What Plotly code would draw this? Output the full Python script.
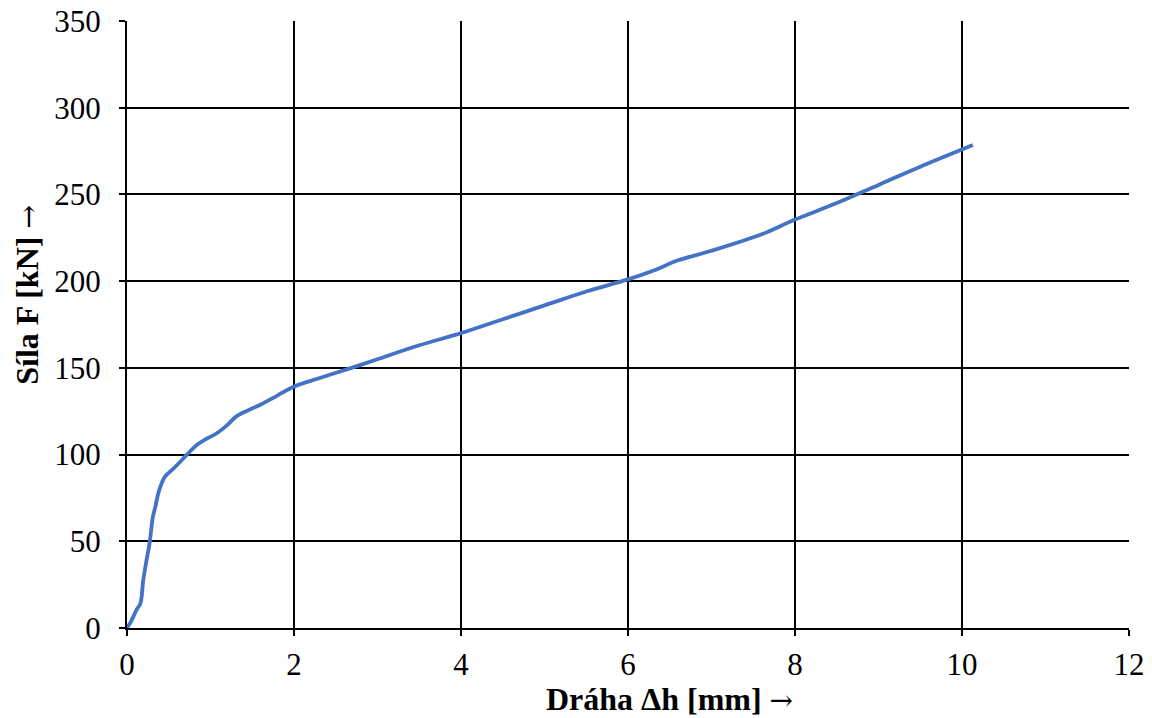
import plotly.graph_objects as go

# displacement [mm] and force [kN]
drah = [0, 0.05, 0.12, 0.16, 0.195, 0.23, 0.27, 0.31, 0.34, 0.375, 0.42, 0.455, 0.535, 0.62,
        0.715, 0.835, 0.95, 1.075, 1.2, 1.31, 1.45, 1.59, 1.8, 1.99, 2.3, 2.69, 3.0, 3.5,
        4.0, 4.5, 5.0, 5.5, 6.0, 6.3, 6.6, 7.0, 7.6, 8.0, 8.5, 9.0, 9.5, 10.13]
sila = [0, 4, 11, 14, 27.7, 38, 48.8, 64.2, 70, 77.7, 84, 87.3, 91, 95,
        99.8, 105.5, 109, 112.3, 117, 122, 125.5, 128.6, 134, 139, 144, 150, 155, 163,
        170, 178, 186, 194, 201, 206, 212, 217.5, 227, 235.5, 245, 255.5, 266, 278.5]

fig = go.Figure()
fig.add_trace(go.Scatter(x=drah, y=sila, mode='lines', line=dict(color='#4472C4', width=3.8),
                         line_shape='spline', showlegend=False))

axis_common = dict(showline=True, linecolor='black', linewidth=2, showgrid=True, gridcolor='black',
                   gridwidth=1.5, ticks='outside', ticklen=6, tickcolor='black', tickwidth=1.5,
                   zeroline=False, tickfont=dict(family='Liberation Serif', size=31, color='black'),
                   ticklabeloverflow='allow', automargin=False, mirror=False)

fig.update_xaxes(range=[0, 12], dtick=2, ticklabelstandoff=2, **axis_common)
fig.update_yaxes(range=[0, 350], dtick=50, ticklabelstandoff=12, **axis_common)

title_font = dict(family='Liberation Serif', size=32, color='black')
arrow = '<span style="font-family:DejaVu Serif;font-weight:normal;font-size:28px">→</span>'
# axis titles as annotations so they sit where the reference has them
fig.add_annotation(text='<b>Dráha Δh [mm] </b>' + arrow, xref='paper', yref='paper', x=0.541, y=-0.117,
                   xanchor='center', yanchor='middle', showarrow=False, font=title_font)
fig.add_annotation(text='<b>Síla F [kN] </b>' + arrow, xref='paper', yref='paper', x=-0.0998, y=0.549,
                   xanchor='center', yanchor='middle', textangle=-90, showarrow=False, font=title_font)

fig.update_layout(width=1152, height=718, plot_bgcolor='white', paper_bgcolor='white',
                  margin=dict(l=127, r=23, t=21, b=90))
# drop the page's default body margin so the figure sits at the window's corner
fig.write_html("out.html", config={'displayModeBar': False},
               post_script="document.body.style.margin='0';")
